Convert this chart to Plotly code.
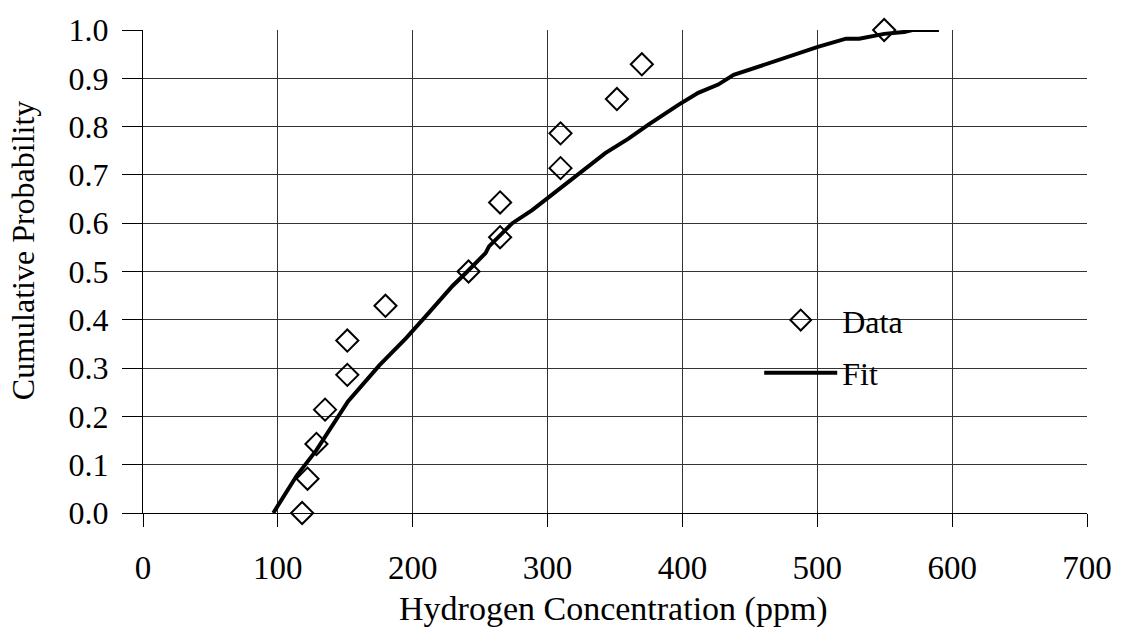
import plotly.graph_objects as go

# Observed data (cumulative probability i/14)
data_x = [118, 122, 128.6, 135, 151.5, 151.5, 179.8, 241.4, 264.8, 264.8, 309.6, 309.6, 351.4, 369.9, 549.6]
data_y = [0.0, 0.071, 0.143, 0.214, 0.286, 0.357, 0.429, 0.5, 0.571, 0.643, 0.714, 0.786, 0.857, 0.929, 1.0]

# Fitted CDF
fit_x = [96.6, 113.9, 128.6, 152, 175.4, 187.7, 195.1, 209.9, 214.8, 229.5, 239.4, 254, 256.6,
         273.9, 288.6, 301, 323, 342.8, 360, 374.8, 397, 411.7, 426.5, 438, 500.4, 521.3,
         531.1, 549.6, 564.4, 570.5, 590.2]
fit_y = [0.0, 0.077, 0.13, 0.231, 0.306, 0.340, 0.362, 0.408, 0.424, 0.470, 0.497, 0.538, 0.552,
         0.600, 0.627, 0.654, 0.704, 0.745, 0.775, 0.804, 0.845, 0.870, 0.887, 0.907, 0.965, 0.982,
         0.982, 0.992, 0.996, 1.0, 1.0]

x_ticks = [0, 100, 200, 300, 400, 500, 600, 700]
y_ticks = [0.0, 0.1, 0.2, 0.3, 0.4, 0.5, 0.6, 0.7, 0.8, 0.9, 1.0]

FONT = "Liberation Serif, Times New Roman, serif"

fig = go.Figure()
fig.add_trace(go.Scatter(
    x=fit_x, y=fit_y, mode="lines", name="Fit",
    line=dict(color="black", width=4), cliponaxis=False,
    legendrank=2, legendgroup="fit",
))
fig.add_trace(go.Scatter(
    x=data_x, y=data_y, mode="markers", name="Data",
    marker=dict(symbol="diamond-open", size=17, color="black", line=dict(width=2, color="black")),
    cliponaxis=False, legendrank=1, legendgroup="data",
))

# white legend box covering grid lines
fig.add_shape(type="rect", xref="paper", yref="paper", layer="between",
              x0=(753 - 142.5) / 947.5, x1=(917 - 142.5) / 947.5,
              y0=(512.7 - 399) / 488.4, y1=(512.7 - 287) / 488.4,
              fillcolor="white", line=dict(width=0))

fig.update_layout(
    width=1124, height=638,
    margin=dict(l=142.5, r=34, t=24, b=125.3),
    paper_bgcolor="white", plot_bgcolor="white",
    font=dict(family=FONT, size=32, color="black"),
    showlegend=True,
    legend=dict(
        x=(761 - 142.5) / 947.5, y=(512.7 - 290) / 488.4,
        xanchor="left", yanchor="top",
        bgcolor="rgba(0,0,0,0)", borderwidth=0,
        font=dict(family=FONT, size=32, color="black"),
        itemwidth=73, tracegroupgap=8, traceorder="grouped",
    ),
    xaxis=dict(
        range=[0, 700], tickvals=x_ticks, ticktext=[str(v) for v in x_ticks],
        showgrid=True, gridcolor="#333333", gridwidth=1,
        showline=True, linecolor="black", linewidth=1,
        ticks="outside", ticklen=13, tickcolor="black", tickwidth=1,
        ticklabelstandoff=12,
        zeroline=False, fixedrange=True,
        tickfont=dict(family=FONT, size=33),
    ),
    yaxis=dict(
        range=[0, 1.0], tickvals=y_ticks, ticktext=[f"{v:.1f}" for v in y_ticks],
        showgrid=True, gridcolor="#333333", gridwidth=1,
        showline=True, linecolor="black", linewidth=1,
        ticks="outside", ticklen=20, tickcolor="black", tickwidth=1,
        ticklabelstandoff=7,
        zeroline=False, fixedrange=True,
        tickfont=dict(family=FONT, size=32),
    ),
    annotations=[
        dict(text="Hydrogen Concentration (ppm)", xref="paper", yref="paper",
             x=(615 - 142.5) / 947.5, y=-(610 - 512.7) / 488.4,
             xanchor="center", yanchor="middle", showarrow=False,
             font=dict(family=FONT, size=34)),
        dict(text="Cumulative Probability", xref="paper", yref="paper",
             x=-(142.5 - 22) / 947.5, y=(512.7 - 247) / 488.4,
             xanchor="center", yanchor="middle", showarrow=False, textangle=-90,
             font=dict(family=FONT, size=32)),
    ],
)

fig.write_html("out.html")
